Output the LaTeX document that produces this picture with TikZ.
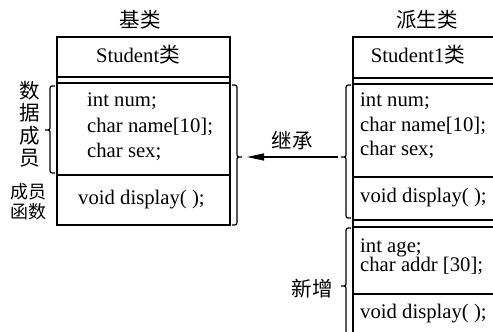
\documentclass[tikz,border=0pt]{standalone}
\usepackage{fontspec}
\setmainfont{Liberation Serif}
\newfontfamily\cjk{Noto Sans CJK SC}
\usetikzlibrary{arrows.meta}
\begin{document}
\begin{tikzpicture}[x=1pt,y=-1pt,
  boxline/.style={line width=1.3pt},
  bracestyle/.style={line width=1.2pt},
  code/.style={anchor=west,inner sep=0pt,text height=14pt,text depth=4.5pt,
    font=\fontsize{20.7}{24}\selectfont},
  title/.style={inner sep=0pt,text height=14pt,text depth=4.5pt,
    font=\fontsize{20.7}{24}\selectfont},
  hz/.style={inner sep=0pt,font=\fontsize{20.5}{22.5}\selectfont\cjk,align=center},
  hzsmall/.style={inner sep=0pt,font=\fontsize{18}{20}\selectfont\cjk,align=center},
  inherit/.style={line width=1.2pt,-{Triangle[length=17pt,width=7pt]}}]
\useasboundingbox (0,0) rectangle (493,332);
\clip (0,0) rectangle (493,332);

% base class box
\draw[boxline] (57,37) rectangle (230,225);
\draw[boxline] (57,77) -- (230,77);
\draw[boxline] (57,83) -- (230,83);
\draw[boxline] (57,175) -- (230,175);

% derived class box (runs past the right and bottom edges)
\draw[boxline] (500,37) -- (353,37) -- (353,340);
\draw[boxline] (353,78) -- (500,78);
\draw[boxline] (353,84) -- (500,84);
\draw[boxline] (353,177) -- (500,177);
\draw[boxline] (353,220) -- (500,220);
\draw[boxline] (353,227) -- (500,227);
\draw[boxline] (353,294) -- (500,294);

% headings
\node[hz] (baseTitle) at (140,20) {基类};
\node[hz] (derivedTitle) at (427,20) {派生类};

% base class contents
\node[title] (baseName) at (138,58) {Student{\cjk 类}};
\node[code] (bNum)  at (87,102) {int num;};
\node[code] (bName) at (87,128) {char name[10];};
\node[code] (bSex)  at (87,153) {char sex;};
\node[code] (bDisp) at (78,200) {void display( );};

% derived class contents
\node[title] (derivedName) at (418,58) {Student1{\cjk 类}};
\node[code] (dNum)  at (360,102) {int num;};
\node[code] (dName) at (360,127) {char name[10];};
\node[code] (dSex)  at (360,151) {char sex;};
\node[code] (dDisp) at (360,198) {void display( );};
\node[code] (dAge)  at (360,248) {int age;};
\node[code] (dAddr) at (360,267) {char addr [30];};
\node[code] (dDisp2) at (360,314) {void display( );};

% side labels
\node[hz] (dataLbl) at (30,124) {数\\据\\成\\员};
\node[hzsmall] (funcLbl) at (28,202) {成员\\函数};
\node[hz] (inheritLbl) at (292,141) {继承};
\node[hz] (newLbl) at (312,289) {新增};

% braces
\draw[bracestyle] (55,86) .. controls (50,86) .. (50,91) -- (50,126)
  .. controls (50,130) .. (45,130) .. controls (50,130) .. (50,134) -- (50,168)
  .. controls (50,173) .. (55,173);
\draw[bracestyle] (232,85) .. controls (237,85) .. (237,90) -- (237,153)
  .. controls (237,157) .. (242,157) .. controls (237,157) .. (237,161) -- (237,220)
  .. controls (237,225) .. (232,225);
\draw[bracestyle] (351,85) .. controls (346,85) .. (346,90) -- (346,153)
  .. controls (346,157) .. (341,157) .. controls (346,157) .. (346,161) -- (346,213)
  .. controls (346,218) .. (351,218);
\draw[bracestyle] (351,228) .. controls (346,228) .. (346,233) -- (346,282)
  .. controls (346,286) .. (341,286) .. controls (346,286) .. (346,290) -- (346,339)
  .. controls (346,344) .. (351,344);

\coordinate (baseTip) at (242,157);
\coordinate (derivedTip) at (341,157);
\draw[inherit,shorten <=3pt,shorten >=5pt] (derivedTip) -- (baseTip);
\end{tikzpicture}
\end{document}
